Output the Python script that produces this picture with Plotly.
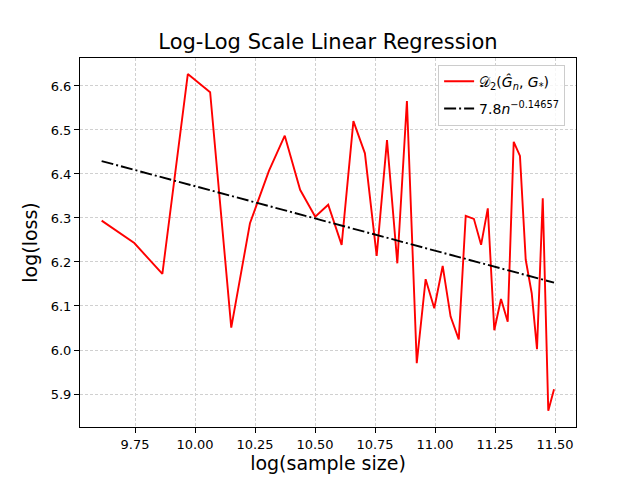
import numpy as np
import plotly.graph_objects as go

# log(sample size)
log_n = [9.611, 9.747, 9.864, 9.970, 10.063, 10.151, 10.229, 10.308, 10.374, 10.438,
         10.501, 10.555, 10.611, 10.660, 10.708, 10.757, 10.800, 10.843, 10.883, 10.924,
         10.961, 10.997, 11.032, 11.065, 11.099, 11.128, 11.162, 11.192, 11.220, 11.247,
         11.275, 11.303, 11.328, 11.354, 11.378, 11.403, 11.425, 11.449, 11.472, 11.496]
# log(loss)
log_loss = [6.294, 6.243, 6.173, 6.627, 6.586, 6.051, 6.288, 6.407, 6.487, 6.364,
            6.303, 6.330, 6.239, 6.520, 6.447, 6.214, 6.477, 6.197, 6.566, 5.970,
            6.161, 6.095, 6.191, 6.076, 6.024, 6.305, 6.298, 6.239, 6.322, 6.045,
            6.116, 6.064, 6.473, 6.441, 6.205, 6.129, 6.002, 6.345, 5.862, 5.911]

fit_slope = -0.14657
fit_intercept = 7.838
fit_x = [log_n[0], log_n[-1]]
fit_y = [fit_intercept + fit_slope * v for v in fit_x]

x_ticks = [9.75, 10.00, 10.25, 10.50, 10.75, 11.00, 11.25, 11.50]
y_ticks = [5.9, 6.0, 6.1, 6.2, 6.3, 6.4, 6.5, 6.6]

FONT = "DejaVu Sans, Liberation Sans, sans-serif"

fig = go.Figure()
fig.add_trace(go.Scatter(
    x=log_n, y=log_loss, mode="lines", legendgroup="a",
    line=dict(color="red", width=1.9),
    name="𝒟<sub>2</sub>(<i>Ĝ</i><sub><i>n</i></sub>, <i>G</i><sub>*</sub>)"))
fig.add_trace(go.Scatter(
    x=fit_x, y=fit_y, mode="lines", legendgroup="b",
    line=dict(color="black", width=1.9, dash="12px,3px,2px,3px"),
    name="7.8<i>n</i><sup>−0.14657</sup>"))

axis_common = dict(
    showline=True, linecolor="black", linewidth=1.1, mirror=True,
    ticks="outside", ticklen=5, tickwidth=1.1, tickcolor="black",
    showgrid=True, gridcolor="#d0d0d0", griddash="3px,2px", gridwidth=0.8,
    zeroline=False, tickfont=dict(family=FONT, size=13, color="black"),
    automargin=False,
)

# the page body has an 8px margin, so offsets are compensated here
fig.update_layout(
    width=640, height=480,
    paper_bgcolor="white", plot_bgcolor="white",
    margin=dict(l=72, r=72, t=50, b=61),
    font=dict(family=FONT, color="black"),
    title=dict(text="Log-Log Scale Linear Regression",
               font=dict(family=FONT, size=21, color="black"),
               x=0.5, xref="paper", xanchor="center",
               y=1 - 34 / 480, yref="container", yanchor="middle"),
    xaxis=dict(axis_common, range=[9.5208, 11.5875], tickvals=x_ticks,
               ticktext=[f"{v:.2f}" for v in x_ticks],
               title=dict(text="log(sample size)", font=dict(family=FONT, size=19), standoff=6)),
    yaxis=dict(axis_common, range=[5.825, 6.6636], tickvals=y_ticks,
               ticktext=[f"{v:.1f}" for v in y_ticks],
               title=dict(text="log(loss)", font=dict(family=FONT, size=19), standoff=8)),
    legend=dict(x=0.722, y=0.982, xanchor="left", yanchor="top",
                bgcolor="rgba(255,255,255,0.8)", bordercolor="#cccccc", borderwidth=1,
                font=dict(family=FONT, size=14, color="black"),
                tracegroupgap=6, itemwidth=30),
    showlegend=True,
)

fig.write_html("out.html")
